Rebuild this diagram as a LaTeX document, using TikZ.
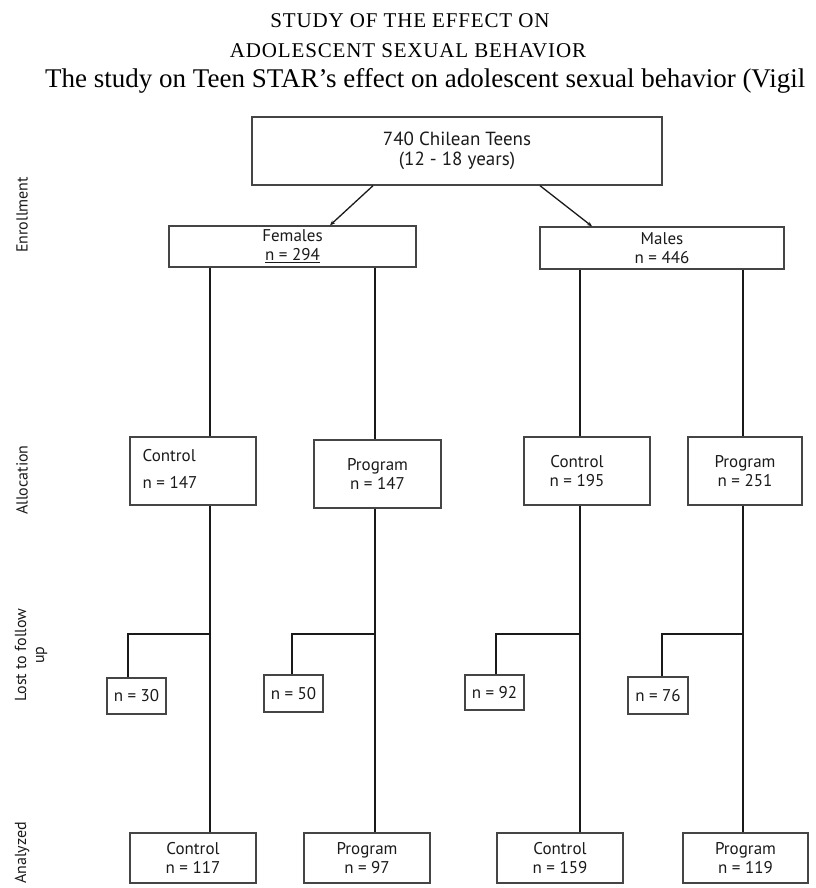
\documentclass[tikz,border=0pt]{standalone}
\usepackage{fontspec}
\setmainfont{Liberation Serif}
\newfontfamily\boxfont{PT Sans}
\newfontfamily\capfont[LetterSpace=4]{Liberation Serif}
\usetikzlibrary{arrows.meta}
\definecolor{ink}{HTML}{1A1A1A}
\definecolor{edge}{HTML}{454545}
\begin{document}
\begin{tikzpicture}[x=1pt,y=1pt,
  bx/.style={draw=edge,line width=1.4pt,rectangle,inner sep=0pt,align=center,
    font=\boxfont\fontsize{17}{19}\selectfont,text=ink},
  txt/.style={inner sep=0pt,align=center,font=\boxfont\fontsize{17}{19}\selectfont,text=ink},
  side/.style={inner sep=0pt,align=center,rotate=90,font=\boxfont\fontsize{16}{18}\selectfont,text=ink},
  ln/.style={draw=ink,line width=1.8pt},
  thin/.style={draw=ink,line width=1.1pt},
  arr/.style={draw=ink,line width=1.3pt,-{Stealth[length=5pt,width=4pt]}}]
\useasboundingbox (0,0) rectangle (815,-888);
% titles
\node[inner sep=0pt,font=\capfont\fontsize{21}{24}\selectfont] (t1) at (410,-21) {STUDY OF THE EFFECT ON};
\node[inner sep=0pt,font=\capfont\fontsize{21}{24}\selectfont] (t2) at (408,-51) {ADOLESCENT SEXUAL BEHAVIOR};
\node[inner sep=0pt,anchor=west,font=\fontsize{27}{30}\selectfont] (t3) at (45,-81) {The study on Teen STAR's effect on adolescent sexual behavior (Vigil};
% boxes
\node[bx,minimum width=410,minimum height=68,font=\boxfont\fontsize{19}{20}\selectfont] (top) at (457,-151) {740 Chilean Teens\\(12 - 18 years)};
\node[bx,minimum width=247,minimum height=41] (fem) at (292.5,-246.5) {Females\\\underline{n = 294}};
\node[bx,minimum width=244,minimum height=42] (mal) at (662,-248) {Males\\n = 446};
\node[bx,minimum width=126,minimum height=68] (fc) at (193,-471) {};
\node[txt,align=left] (fct) at (170,-469) {Control\\[8pt]n = 147};
\node[bx,minimum width=127,minimum height=68] (fp) at (377.5,-474) {Program\\n = 147};
\node[bx,minimum width=126,minimum height=68] (mc) at (587,-471) {};
\node[txt] (mct) at (577,-471) {Control\\n = 195};
\node[bx,minimum width=114,minimum height=68] (mp) at (745,-471) {Program\\n = 251};
\node[bx,minimum width=59,minimum height=36] (l1) at (136.5,-696) {n = 30};
\node[bx,minimum width=59,minimum height=37] (l2) at (293.5,-693.5) {n = 50};
\node[bx,minimum width=59,minimum height=35] (l3) at (494.5,-692.5) {n = 92};
\node[bx,minimum width=60,minimum height=37] (l4) at (658,-695.5) {n = 76};
\node[bx,minimum width=126,minimum height=50] (a1) at (193,-858) {Control\\n = 117};
\node[bx,minimum width=126,minimum height=50] (a2) at (367,-858) {Program\\n = 97};
\node[bx,minimum width=126,minimum height=50] (a3) at (560,-858) {Control\\n = 159};
\node[bx,minimum width=125,minimum height=50] (a4) at (745.5,-858) {Program\\n = 119};
% side labels
\node[side] (s1) at (22,-215) {Enrollment};
\node[side] (s2) at (22,-480) {Allocation};
\node[side] (s3) at (31,-655) {Lost to follow\\up};
\node[side] (s4) at (22,-853) {Analyzed};
% helper coordinates
\coordinate (x1) at (210,0);
\coordinate (x2) at (375,0);
\coordinate (x3) at (580,0);
\coordinate (x4) at (743,0);
\coordinate (ya) at (0,-634);
\coordinate (p1) at (373,0);
\coordinate (q1) at (330,0);
\coordinate (p2) at (540,0);
\coordinate (q2) at (592,0);
% arrows
\draw[arr] (top.south -| p1) -- (fem.north -| q1);
\draw[arr] (top.south -| p2) -- (mal.north -| q2);
% verticals
\draw[thin] (fem.south -| x1) -- (fc.north -| x1);
\draw[ln] (fem.south -| x2) -- (fp.north -| x2);
\draw[ln] (mal.south -| x3) -- (mc.north -| x3);
\draw[ln] (mal.south -| x4) -- (mp.north -| x4);
\draw[ln] (fc.south -| x1) -- (a1.north -| x1);
\draw[ln] (fp.south -| x2) -- (a2.north -| x2);
\draw[ln] (mc.south -| x3) -- (a3.north -| x3);
\draw[ln] (mp.south -| x4) -- (a4.north -| x4);
% lost branches
\draw[ln] (ya -| x1) -| (l1.north -| 128,0);
\draw[ln] (ya -| x2) -| (l2.north -| 292,0);
\draw[ln] (ya -| x3) -| (l3.north -| 496,0);
\draw[ln] (ya -| x4) -| (l4.north -| 662,0);
\end{tikzpicture}
\end{document}
